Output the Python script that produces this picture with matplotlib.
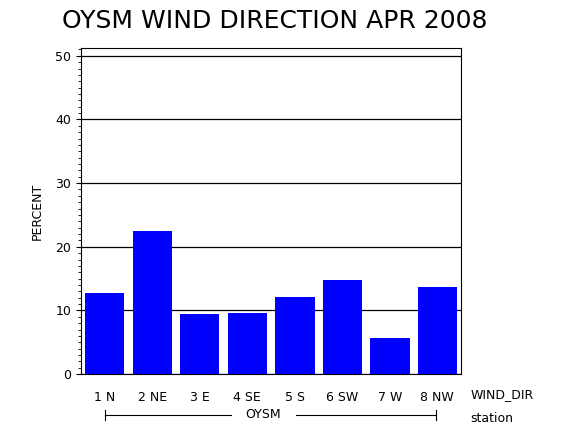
import matplotlib
matplotlib.use("Agg")
import matplotlib.pyplot as plt
from matplotlib.ticker import MultipleLocator

categories = ["1 N", "2 NE", "3 E", "4 SE", "5 S", "6 SW", "7 W", "8 NW"]
percent = [12.7, 22.5, 9.4, 9.6, 12.1, 14.8, 5.7, 13.7]

fig = plt.figure(figsize=(5.7, 4.3), dpi=100)
ax = fig.add_axes([0.142, 0.130, 0.667, 0.758])
x = list(range(len(categories)))
ax.bar(x, percent, width=0.83, color="#0000ff", zorder=3)
ax.set_xlim(-0.5, 7.5)
ax.set_ylim(0, 51.2)
ax.yaxis.set_major_locator(MultipleLocator(10))
ax.yaxis.set_minor_locator(MultipleLocator(1))
ax.grid(axis="y", color="black", linewidth=0.9, zorder=1)
ax.set_xticks(x)
ax.set_xticklabels(categories, fontsize=9)
ax.tick_params(axis="x", length=0, pad=12)
ax.tick_params(axis="y", labelsize=9)
ax.set_ylabel("PERCENT", fontsize=9, labelpad=8)
for s in ax.spines.values():
    s.set_linewidth(0.8)
fig.text(0.108, 0.978, "OYSM WIND DIRECTION APR 2008", fontsize=18, va="top")
fig.text(0.825, 0.083, "WIND_DIR", fontsize=9, va="center")
fig.text(0.825, 0.027, "station", fontsize=9, va="center")
ly = 0.035
fig.add_artist(plt.Line2D([0.185, 0.405], [ly, ly], color="black", lw=0.8))
fig.add_artist(plt.Line2D([0.52, 0.765], [ly, ly], color="black", lw=0.8))
fig.add_artist(plt.Line2D([0.185, 0.185], [ly - 0.012, ly + 0.012], color="black", lw=0.8))
fig.add_artist(plt.Line2D([0.765, 0.765], [ly - 0.012, ly + 0.012], color="black", lw=0.8))
fig.text(0.462, ly, "OYSM", fontsize=9, ha="center", va="center")
fig.savefig("out.png")
